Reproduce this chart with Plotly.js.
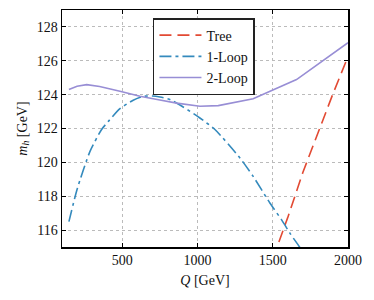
<!DOCTYPE html>
<html><head><meta charset="utf-8">
<script src="https://cdn.plot.ly/plotly-3.0.1.min.js"></script>
<style>body{margin:0;background:#fff}#c{width:374px;height:300px}</style>
</head><body><div id="c"></div>
<script>
const treeQ = [1500, 1530, 1600, 1700, 1800, 1900, 2000];
const treeM = [114.3, 115.03, 116.75, 119.4, 121.75, 124.05, 126.25];
const loop1Q = [146, 200, 286, 363, 408, 485, 573, 640, 700, 751, 820, 900, 1016, 1116, 1282, 1370, 1481, 1559, 1614, 1676, 1700];
const loop1M = [116.5, 118.4, 120.65, 121.94, 122.42, 123.17, 123.67, 123.9, 123.92, 123.86, 123.7, 123.3, 122.62, 121.94, 120.26, 119.17, 117.6, 116.6, 115.82, 115.03, 114.7];
const loop2Q = [146, 200, 264, 350, 485, 618, 750, 862, 1016, 1138, 1370, 1503, 1658, 2000];
const loop2M = [124.3, 124.5, 124.59, 124.48, 124.2, 123.9, 123.68, 123.5, 123.31, 123.35, 123.76, 124.3, 124.89, 127.07];
const xTicks = [500, 1000, 1500, 2000];
const yTicks = [116, 118, 120, 122, 124, 126, 128];

const F = "Liberation Serif, DejaVu Serif, serif";
const traces = [
  {x: treeQ, y: treeM, name: "Tree", mode: "lines", line: {color: "#E24A33", width: 1.6, dash: "12px,6px"}},
  {x: loop1Q, y: loop1M, name: "1-Loop", mode: "lines", line: {color: "#348ABD", width: 1.6, dash: "12px,4px,3px,4px", shape: "spline", smoothing: 0.6}},
  {x: loop2Q, y: loop2M, name: "2-Loop", mode: "lines", line: {color: "#988ED5", width: 1.6}}
];
const ax = {
  showline: true, linecolor: "#000", linewidth: 1.5, mirror: "ticks",
  ticks: "inside", ticklen: 4, tickwidth: 1, tickcolor: "#000",
  showgrid: true, gridcolor: "#bbb", griddash: "dot", gridwidth: 1,
  zeroline: false, tickfont: {family: F, size: 14, color: "#111"}
};
const layout = {
  width: 374, height: 300,
  margin: {l: 62, r: 26, t: 10, b: 53},
  paper_bgcolor: "#fff", plot_bgcolor: "#fff",
  font: {family: F, size: 14, color: "#111"},
  xaxis: Object.assign({}, ax, {range: [100, 2000], tickvals: xTicks, ticktext: xTicks.map(String),
    title: {text: "<i>Q</i> [GeV]", font: {family: F, size: 14, color: "#111"}, standoff: 8}}),
  yaxis: Object.assign({}, ax, {range: [115, 129], tickvals: yTicks, ticktext: yTicks.map(String),
    title: {text: "<i>m<sub>h</sub></i> [GeV]", font: {family: F, size: 14, color: "#111"}, standoff: 6}}),
  legend: {x: 0.318, y: 0.966, xanchor: "left", yanchor: "top", bgcolor: "#fff",
    bordercolor: "#222", borderwidth: 1.5, font: {family: F, size: 14, color: "#111"}, itemwidth: 42,
    tracegroupgap: 0},
  showlegend: true
};
Plotly.newPlot("c", traces, layout, {staticPlot: true, displayModeBar: false});
</script></body></html>
